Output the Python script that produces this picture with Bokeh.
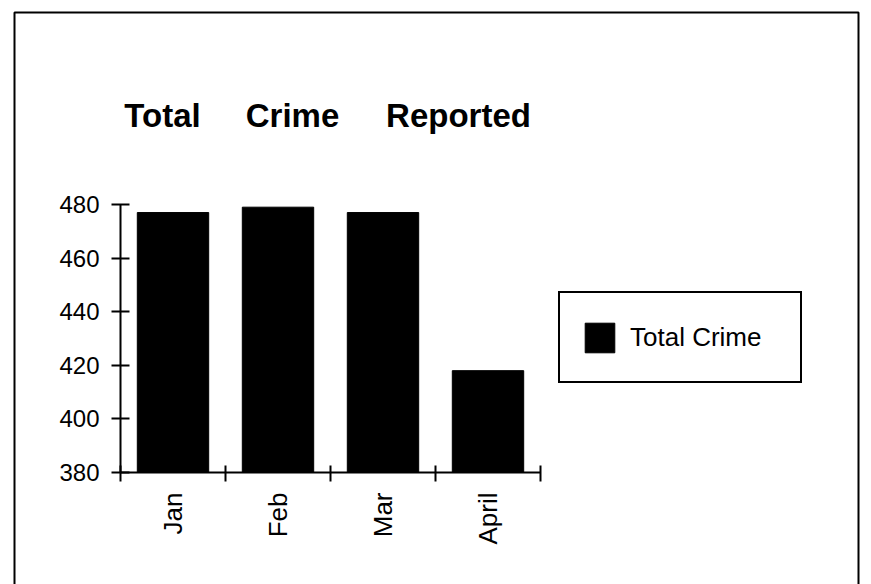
import math
from bokeh.plotting import figure
from bokeh.models import (Range1d, FixedTicker, Legend, LegendItem, Label,
                          BoxAnnotation, ColumnDataSource)
from bokeh.embed import file_html
from bokeh.resources import INLINE

# ---- data ----
months = ["Jan", "Feb", "Mar", "April"]
crimes = [477, 479, 477, 418]
y_ticks = [380, 400, 420, 440, 460, 480]
title_words = ["Total", "Crime", "Reported"]
series_name = "Total Crime"

FONT = "Liberation Sans"
W, H = 871, 584
# pixel geometry of the plotting area (axes box) inside the page
AX_L, AX_R, AX_T, AX_B = 120, 540, 204, 472
Y0, Y1 = 380, 480
NCAT = len(months)

# the frame covers the whole canvas; ranges are chosen so that the
# axes box lands where it should
xpx = (AX_R - AX_L) / NCAT
ypx = (AX_B - AX_T) / (Y1 - Y0)
x_range = Range1d(-AX_L / xpx, NCAT + (W - AX_R) / xpx)
y_range = Range1d(Y0 - (H - AX_B) / ypx, Y1 + AX_T / ypx)

centers = [i + 0.5 for i in range(NCAT)]
bounds = list(range(NCAT + 1))
src = ColumnDataSource(dict(x=centers, top=crimes, month=months))

p = figure(width=W, height=H, output_backend="svg", toolbar_location=None,
           x_range=x_range, y_range=y_range, min_border=0)
p.title = None
p.outline_line_color = None
p.xgrid.visible = False
p.ygrid.visible = False
p.background_fill_color = "white"
p.border_fill_color = "white"

bars = p.vbar(x="x", top="top", bottom=Y0, width=0.68, source=src,
              fill_color="black", line_color="black")

# y axis
ya = p.yaxis[0]
ya.fixed_location = 0
ya.bounds = (Y0, Y1)
ya.ticker = FixedTicker(ticks=y_ticks, minor_ticks=[])
ya.axis_line_width = 2
ya.major_tick_line_width = 2
ya.major_tick_in = 9
ya.major_tick_out = 9
ya.minor_tick_line_color = None
ya.major_label_text_font = FONT
ya.major_label_text_font_size = "24px"
ya.major_label_text_color = "black"
ya.major_label_standoff = 12

# x axis: ticks at category boundaries, labels at centres
xa = p.xaxis[0]
xa.fixed_location = Y0
xa.bounds = (0, NCAT)
xa.ticker = FixedTicker(ticks=centers, minor_ticks=bounds)
xa.major_label_overrides = {c: m for c, m in zip(centers, months)}
xa.major_tick_line_color = None
xa.minor_tick_line_width = 2
xa.minor_tick_in = 7
xa.minor_tick_out = 9
xa.axis_line_width = 2
xa.major_label_orientation = math.pi / 2
xa.major_label_text_font = FONT
xa.major_label_text_font_size = "26px"
xa.major_label_text_color = "black"
xa.major_label_standoff = 11

# title words (spaced like the original); screen units from bottom-left
for word, sx in zip(title_words, [162, 292, 458]):
    p.add_layout(Label(x=sx, y=H - 115, x_units="screen", y_units="screen",
                       text=word, text_font=FONT, text_font_size="33px",
                       text_font_style="bold", text_align="center",
                       text_baseline="alphabetic", text_color="black"))

# legend
legend = Legend(items=[LegendItem(label=series_name, renderers=[bars])],
                location=(558, H - 383), orientation="vertical",
                border_line_color="black", border_line_width=2,
                border_line_alpha=1.0,
                background_fill_color="white", background_fill_alpha=1.0,
                padding=21, margin=0, spacing=0,
                glyph_width=37, glyph_height=37, label_standoff=12,
                label_width=149, label_height=46,
                label_text_font=FONT, label_text_font_size="26px",
                label_text_color="black")
p.add_layout(legend, "center")

# outer frame of the page (runs off the bottom)
p.add_layout(BoxAnnotation(left=14, right=858, top=H - 12, bottom=-30,
                           left_units="screen", right_units="screen",
                           top_units="screen", bottom_units="screen",
                           fill_alpha=0, line_color="black", line_alpha=1.0,
                           line_width=2))

open("out.html", "w").write(file_html(p, INLINE))
